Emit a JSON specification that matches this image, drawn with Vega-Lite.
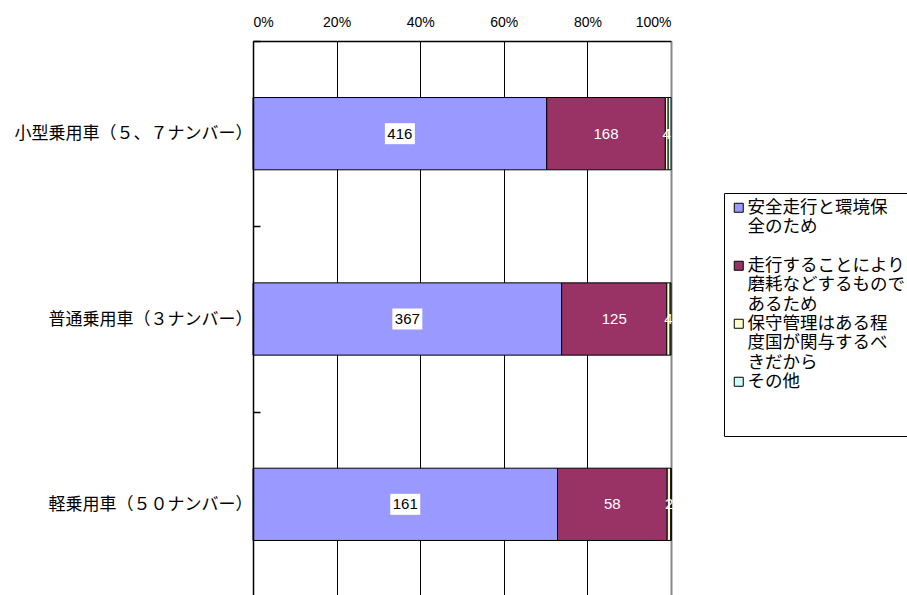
{
  "$schema": "https://vega.github.io/schema/vega-lite/v6.json",
  "autosize": "none",
  "width": 418,
  "height": 556,
  "padding": {"left": 253, "top": 41, "right": 236, "bottom": 0},
  "background": "white",
  "config": {
    "view": {"stroke": null},
    "font": "Liberation Sans"
  },
  "data": {
    "values": [
      {"vehicle": "小型乗用車（５、７ナンバー）", "reason": "安全走行と環境保全のため", "ord": 1, "value": 416},
      {"vehicle": "小型乗用車（５、７ナンバー）", "reason": "走行することにより磨耗などするものであるため", "ord": 2, "value": 168},
      {"vehicle": "小型乗用車（５、７ナンバー）", "reason": "保守管理はある程度国が関与するべきだから", "ord": 3, "value": 4},
      {"vehicle": "小型乗用車（５、７ナンバー）", "reason": "その他", "ord": 4, "value": 4},
      {"vehicle": "普通乗用車（３ナンバー）", "reason": "安全走行と環境保全のため", "ord": 1, "value": 367},
      {"vehicle": "普通乗用車（３ナンバー）", "reason": "走行することにより磨耗などするものであるため", "ord": 2, "value": 125},
      {"vehicle": "普通乗用車（３ナンバー）", "reason": "保守管理はある程度国が関与するべきだから", "ord": 3, "value": 4},
      {"vehicle": "普通乗用車（３ナンバー）", "reason": "その他", "ord": 4, "value": 1},
      {"vehicle": "軽乗用車（５０ナンバー）", "reason": "安全走行と環境保全のため", "ord": 1, "value": 161},
      {"vehicle": "軽乗用車（５０ナンバー）", "reason": "走行することにより磨耗などするものであるため", "ord": 2, "value": 58},
      {"vehicle": "軽乗用車（５０ナンバー）", "reason": "保守管理はある程度国が関与するべきだから", "ord": 3, "value": 2},
      {"vehicle": "軽乗用車（５０ナンバー）", "reason": "その他", "ord": 4, "value": 0}
    ]
  },
  "encoding": {
    "y": {
      "field": "vehicle",
      "type": "nominal",
      "sort": ["小型乗用車（５、７ナンバー）", "普通乗用車（３ナンバー）", "軽乗用車（５０ナンバー）"],
      "scale": {"paddingInner": 0, "paddingOuter": 0},
      "axis": {
        "title": null,
        "zindex": 1,
        "domainColor": "black",
        "domainWidth": 1.5,
        "ticks": true,
        "tickBand": "extent",
        "tickColor": "black",
        "tickSize": -7,
        "tickWidth": 1.5,
        "tickOpacity": 1,
        "labelFont": "Noto Sans CJK JP",
        "labelFontSize": 17,
        "labelColor": "black",
        "labelPadding": 8,
        "labelLimit": 400
      }
    }
  },
  "layer": [
    {
      "mark": {"type": "bar", "stroke": "black", "strokeWidth": 1, "height": {"band": 0.39}},
      "encoding": {
        "x": {
          "field": "value",
          "type": "quantitative",
          "stack": "normalize",
          "scale": {"domain": [0, 1], "nice": false},
          "axis": {
            "orient": "top",
            "title": null,
            "format": "%",
            "values": [0, 0.2, 0.4, 0.6, 0.8, 1],
            "grid": true,
            "gridColor": {"condition": {"test": "datum.value == 1", "value": "#888888"}, "value": "black"},
            "gridWidth": {"condition": {"test": "datum.value == 1", "value": 2}, "value": 1},
            "gridOpacity": 1,
            "ticks": false,
            "domainColor": "black",
            "domainWidth": 1.5,
            "labelFont": "Liberation Sans",
            "labelFontSize": 14,
            "labelColor": "black",
            "labelPadding": 12
          }
        },
        "color": {
          "field": "reason",
          "type": "nominal",
          "sort": ["安全走行と環境保全のため", "走行することにより磨耗などするものであるため", "保守管理はある程度国が関与するべきだから", "その他"],
          "scale": {
            "domain": ["安全走行と環境保全のため", "走行することにより磨耗などするものであるため", "保守管理はある程度国が関与するべきだから", "その他"],
            "range": ["#9999FF", "#993366", "#FFFFCC", "#CCFFFF"]
          },
          "legend": {
            "orient": "none",
            "legendX": 471,
            "legendY": 152,
            "title": null,
            "symbolType": "square",
            "symbolSize": 81,
            "symbolStrokeColor": "black",
            "symbolStrokeWidth": 1,
            "symbolOpacity": 1,
            "labelFont": "Noto Sans CJK JP",
            "labelFontSize": 17.5,
            "labelLineHeight": 16.5,
            "labelColor": "black",
            "labelBaseline": "middle",
            "labelLimit": 400,
            "labelOffset": 0,
            "rowPadding": 0,
            "padding": 6,
            "strokeColor": "black",
            "fillColor": "white",
            "labelExpr": "datum.value == '安全走行と環境保全のため' ? ['安全走行と環境保', '全のため', ''] : datum.value == '走行することにより磨耗などするものであるため' ? ['走行することにより', '磨耗などするもので', 'あるため'] : datum.value == '保守管理はある程度国が関与するべきだから' ? ['保守管理はある程', '度国が関与するべ', 'きだから'] : ['その他', '', '']"
          }
        },
        "order": {"field": "ord", "type": "quantitative"}
      }
    },
    {
      "mark": {"type": "point", "shape": "M-1,-0.7H1V0.7H-1Z", "filled": true, "fill": "white", "strokeWidth": 0, "size": 900},
      "encoding": {
        "x": {"field": "value", "type": "quantitative", "stack": "normalize", "bandPosition": 0.5},
        "detail": {"field": "reason"},
        "order": {"field": "ord", "type": "quantitative"},
        "opacity": {"condition": {"test": "datum.ord == 1", "value": 1}, "value": 0}
      }
    },
    {
      "mark": {"type": "text", "font": "Liberation Sans", "fontSize": 15, "align": "center", "baseline": "middle"},
      "encoding": {
        "x": {"field": "value", "type": "quantitative", "stack": "normalize", "bandPosition": 0.5},
        "detail": {"field": "reason"},
        "order": {"field": "ord", "type": "quantitative"},
        "text": {"field": "value", "type": "quantitative"},
        "color": {"condition": {"test": "datum.ord == 1", "value": "black"}, "value": "white"},
        "opacity": {"condition": {"test": "datum.ord == 4 || datum.value == 0", "value": 0}, "value": 1}
      }
    }
  ]
}
